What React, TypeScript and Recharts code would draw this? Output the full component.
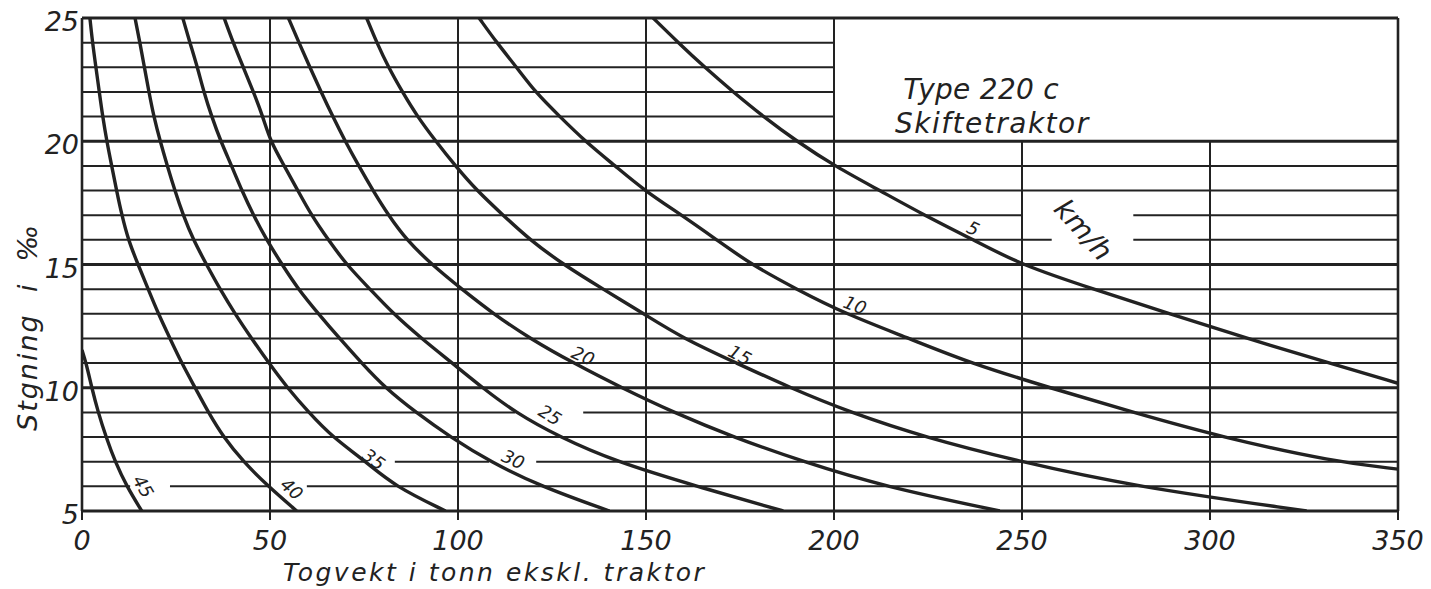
import React from 'react';
import { ComposedChart, Line, XAxis, YAxis, ReferenceLine, ReferenceDot } from 'recharts';

const FONT = '"DejaVu Sans", "Liberation Sans", sans-serif';
const INK = '#222222';

const grades = [25, 24, 23, 22, 21, 20, 19, 18, 17, 16, 15, 14, 13, 12, 11, 10, 9, 8, 7, 6, 5];

// train weight (tonnes) at each grade, per speed (km/h)
const tonnes40 = [2.1, 2.8, 3.7, 4.6, 5.5, 6.6, 7.9, 9.2, 10.6, 12.3, 14.9, 17.6, 20.3, 23.4, 26.5, 30.1, 33.6, 37.6, 42.9, 49.5, 57.1];
const tonnes35 = [14.1, 15.4, 16.6, 17.8, 19.1, 20.8, 22.7, 24.7, 26.9, 29.6, 33.1, 36.7, 40.7, 45.1, 49.7, 54.6, 60.3, 66.6, 75.5, 83.2, 96.7];
const tonnes30 = [26.8, 28.7, 30.7, 32.4, 34.5, 36.9, 39.8, 42.5, 45.6, 49.1, 53.2, 57.5, 62.9, 68.5, 74.4, 80.6, 88.8, 98.0, 108.6, 122.0, 140.3];
const tonnes25 = [37.8, 40.2, 42.9, 45.6, 48.1, 50.1, 53.8, 57.4, 61.0, 65.5, 70.3, 76.6, 82.8, 90.3, 98.5, 106.5, 115.2, 127.0, 142.0, 163.5, 186.5];
const tonnes20 = [54.9, 57.7, 60.6, 63.6, 66.7, 70.0, 73.6, 77.4, 81.5, 86.3, 93.0, 101.0, 109.4, 119.1, 130.7, 143.5, 157.3, 173.2, 191.8, 213.1, 244.1];
const tonnes15 = [75.7, 78.4, 81.5, 85.2, 89.2, 94.1, 99.3, 105.0, 112.0, 119.1, 128.0, 138.6, 149.4, 159.9, 174.1, 188.3, 204.3, 224.0, 249.5, 279.6, 325.7];
// curve 10: grades 25..7, then leaves the chart at 350 t
const tonnes10 = [105.6, 110.3, 115.6, 120.5, 127.1, 133.8, 141.8, 149.6, 159.5, 168.8, 178.0, 190.0, 203.0, 220.0, 236.2, 257.4, 279.6, 303.0, 333.0];
const end10 = { t: 350, g: 6.7 };
// curve 5: grades 25..11, then leaves the chart at 350 t
const tonnes5 = [151.9, 158.6, 165.6, 173.2, 181.2, 190.1, 200.1, 212.2, 224.0, 237.1, 249.5, 269.0, 289.4, 309.8, 331.9];
const end5 = { t: 350, g: 10.18 };
// curve 45: starts on the grade axis, then grades 11..5
const start45 = { t: 0, g: 11.53 };
const tonnes45 = [1.1, 2.6, 4.3, 6.4, 8.8, 11.9, 15.9];
const grades45 = [11, 10, 9, 8, 7, 6, 5];

const xTicks = [0, 50, 100, 150, 200, 250, 300, 350];
const yTicks = [5, 10, 15, 20, 25];
const gradeLines = [5, 6, 7, 8, 9, 10, 11, 12, 13, 14, 15, 16, 17, 18, 19, 20, 21, 22, 23, 24, 25];
const majorGrades = [5, 10, 15, 20, 25];
const titleBox = { t: 200, g: 20 };
const gridGaps = [
  { g: 6, from: 12.8, to: 23.4 },
  { g: 6, from: 49.8, to: 59.8 },
  { g: 7, from: 75.7, to: 83.2 },
  { g: 7, from: 108.3, to: 120.8 },
  { g: 9, from: 115.2, to: 133.3 },
  { g: 16, from: 257.9, to: 279.6 },
  { g: 17, from: 250, to: 279.6 },
];

const curveLabels = [
  { text: '45', t: 16.3, g: 6.0, angle: 60 },
  { text: '40', t: 55.8, g: 5.9, angle: 41 },
  { text: '35', t: 77.6, g: 7.1, angle: 36 },
  { text: '30', t: 114.7, g: 7.1, angle: 24 },
  { text: '25', t: 124.5, g: 8.9, angle: 31 },
  { text: '20', t: 133.3, g: 11.3, angle: 24 },
  { text: '15', t: 175, g: 11.33, angle: 28 },
  { text: '10', t: 205.6, g: 13.36, angle: 21 },
  { text: '5', t: 237, g: 16.47, angle: 25 },
];

const zip = (ts: number[], gs: number[]) => ts.map((t, i) => ({ t, g: gs[i] }));

const curves = [
  { speed: 5, data: [...zip(tonnes5, grades), end5] },
  { speed: 10, data: [...zip(tonnes10, grades), end10] },
  { speed: 15, data: zip(tonnes15, grades) },
  { speed: 20, data: zip(tonnes20, grades) },
  { speed: 25, data: zip(tonnes25, grades) },
  { speed: 30, data: zip(tonnes30, grades) },
  { speed: 35, data: zip(tonnes35, grades) },
  { speed: 40, data: zip(tonnes40, grades) },
  { speed: 45, data: [start45, ...zip(tonnes45, grades45)] },
];

function hSegments(g: number): [number, number][] {
  const end = g > titleBox.g && g < 25 ? titleBox.t : 350;
  let segs: [number, number][] = [[0, end]];
  gridGaps
    .filter((gap) => gap.g === g)
    .forEach((gap) => {
      const next: [number, number][] = [];
      segs.forEach(([a, b]) => {
        if (gap.to <= a || gap.from >= b) {
          next.push([a, b]);
        } else {
          if (gap.from > a) next.push([a, gap.from]);
          if (gap.to < b) next.push([gap.to, b]);
        }
      });
      segs = next;
    });
  return segs;
}

const textStyle: React.CSSProperties = { whiteSpace: 'pre' };

const XTick = (props: any) => {
  const { x, y, payload } = props;
  return (
    <text x={x} y={y + 22} textAnchor="middle" fontFamily={FONT} fontStyle="italic" fontSize={27} fill={INK}>
      {payload.value}
    </text>
  );
};

const YTick = (props: any) => {
  const { x, y, payload } = props;
  return (
    <text x={x} y={y + 13} textAnchor="end" fontFamily={FONT} fontStyle="italic" fontSize={27} fill={INK}>
      {payload.value}
    </text>
  );
};

const XTitle = () => (
  <text x={283} y={581} fontFamily={FONT} fontStyle="italic" fontSize={25} letterSpacing={2.5} fill={INK} style={textStyle}>
    Togvekt i tonn ekskl. traktor
  </text>
);

const YTitle = () => (
  <text
    transform="translate(37, 431) rotate(-90)"
    fontFamily={FONT}
    fontStyle="italic"
    fontSize={27}
    letterSpacing={2}
    fill={INK}
    style={textStyle}
  >
    {'Stgning  i  \u2030'}
  </text>
);

const RotText = ({ cx, cy, text, angle, size, anchor }: any) => (
  <text
    x={cx}
    y={cy}
    transform={`rotate(${angle} ${cx} ${cy})`}
    textAnchor={anchor || 'middle'}
    dominantBaseline="central"
    fontFamily={FONT}
    fontStyle="italic"
    fontSize={size}
    fill={INK}
  >
    {text}
  </text>
);

const PlainText = ({ cx, cy, text, size, spacing }: any) => (
  <text x={cx} y={cy} textAnchor="start" fontFamily={FONT} fontStyle="italic" fontSize={size} letterSpacing={spacing} fill={INK} style={textStyle}>
    {text}
  </text>
);

export default function App() {
  return (
    <div style={{ position: 'absolute', left: 0, top: 0, background: '#fff' }}>
      <ComposedChart width={1431} height={589} margin={{ top: 18, right: 33, left: 0, bottom: 0 }}>
        <XAxis
          dataKey="t"
          type="number"
          domain={[0, 350]}
          ticks={xTicks}
          allowDataOverflow
          height={78}
          axisLine={false}
          tickLine={{ stroke: INK, strokeWidth: 2 }}
          tickSize={9}
          tickMargin={8}
          tick={<XTick />}
          label={<XTitle />}
        />
        <YAxis
          type="number"
          domain={[5, 25]}
          ticks={yTicks}
          allowDataOverflow
          width={82}
          axisLine={false}
          tickLine={false}
          tickSize={0}
          tickMargin={3}
          tick={<YTick />}
          label={<YTitle />}
        />
        {gradeLines.flatMap((g) =>
          hSegments(g).map(([a, b], i) => (
            <ReferenceLine
              key={`h${g}-${i}`}
              segment={[{ x: a, y: g }, { x: b, y: g }]}
              stroke={INK}
              strokeWidth={majorGrades.includes(g) ? 2.8 : 2}
              ifOverflow="visible"
            />
          ))
        )}
        {xTicks.map((t) => (
          <ReferenceLine
            key={`v${t}`}
            segment={[{ x: t, y: 5 }, { x: t, y: t > titleBox.t && t < 350 ? titleBox.g : 25 }]}
            stroke={INK}
            strokeWidth={t === 0 || t === 350 ? 2.6 : 2}
            ifOverflow="visible"
          />
        ))}
        {curves.map((c) => (
          <Line
            key={`c${c.speed}`}
            data={c.data}
            dataKey="g"
            type="basis"
            stroke={INK}
            strokeWidth={3.4}
            dot={false}
            activeDot={false}
            isAnimationActive={false}
          />
        ))}
        {curveLabels.map((l) => (
          <ReferenceDot
            key={`l${l.text}`}
            x={l.t}
            y={l.g}
            r={1}
            ifOverflow="visible"
            shape={(p: any) => <RotText cx={p.cx} cy={p.cy} text={l.text} angle={l.angle} size={18} />}
          />
        ))}
        <ReferenceDot
          x={266.3}
          y={16.4}
          r={1}
          ifOverflow="visible"
          shape={(p: any) => <RotText cx={p.cx} cy={p.cy} text="km/h" angle={48} size={28} />}
        />
        <ReferenceDot
          x={218.4}
          y={21.71}
          r={1}
          ifOverflow="visible"
          shape={(p: any) => <PlainText cx={p.cx} cy={p.cy} text="Type 220 c" size={28} spacing={0.3} />}
        />
        <ReferenceDot
          x={216.2}
          y={20.33}
          r={1}
          ifOverflow="visible"
          shape={(p: any) => <PlainText cx={p.cx} cy={p.cy} text="Skiftetraktor" size={28} spacing={1.5} />}
        />
      </ComposedChart>
    </div>
  );
}
